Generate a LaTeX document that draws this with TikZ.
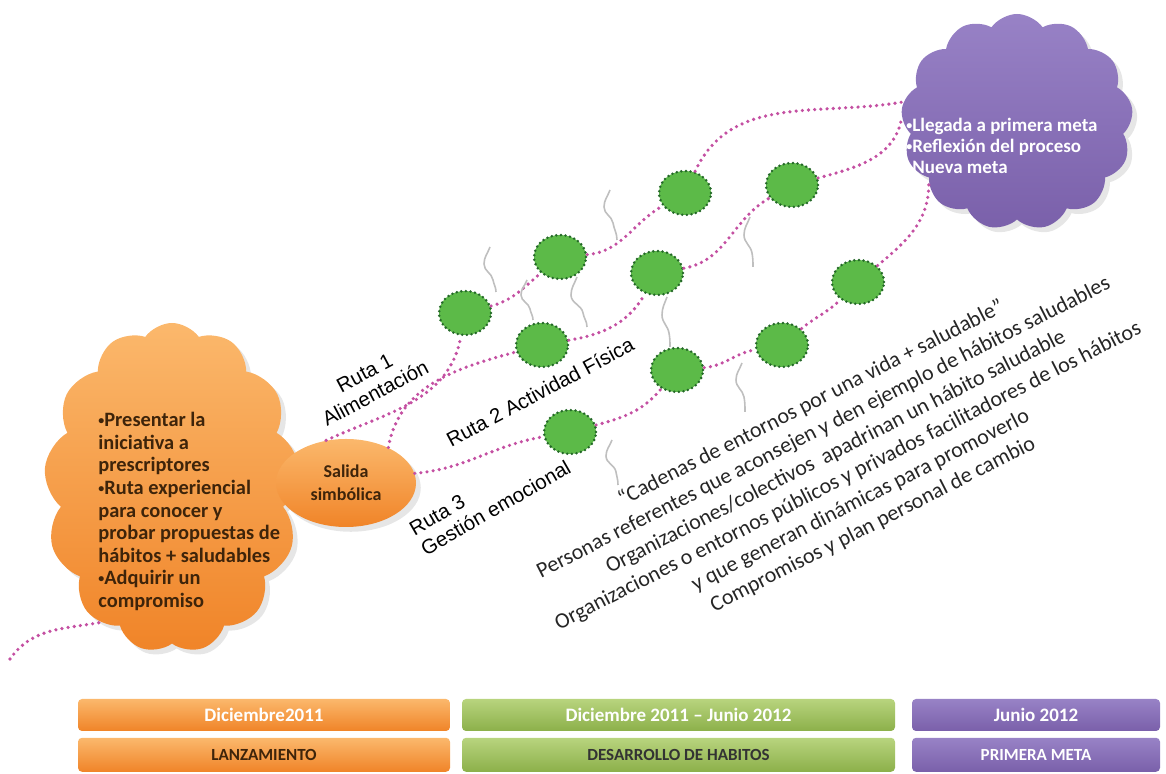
\documentclass[tikz,border=0pt]{standalone}
\usepackage{fontspec}
\setmainfont{Carlito}
\newfontfamily\arialfont{Liberation Sans}
\usetikzlibrary{positioning,shapes.symbols,shapes.geometric,shadows}
\definecolor{naranjaclaro}{RGB}{251,184,108}
\definecolor{naranjaosc}{RGB}{240,132,40}
\definecolor{moradoclaro}{RGB}{152,130,198}
\definecolor{morado}{RGB}{122,96,170}
\definecolor{verde}{RGB}{92,186,72}
\definecolor{verdeosc}{RGB}{36,104,40}
\definecolor{verdeclaro}{RGB}{184,212,126}
\definecolor{verdebarra}{RGB}{140,176,74}
\definecolor{rosa}{RGB}{196,80,162}
\definecolor{marron}{RGB}{62,36,10}
\newcommand{\punto}{\raisebox{0.1em}{\fontsize{6}{6}\selectfont\textbullet}}
\tikzset{
  nube/.style={cloud, cloud puffs=13, cloud puff arc=110, cloud ignores aspect,
    inner sep=0pt, drop shadow={opacity=0.2}},
  hito/.style={ellipse, minimum width=26pt, minimum height=22pt, fill=verde,
    draw=verdeosc, line width=1.4pt, dash pattern=on 0pt off 2.3pt, line cap=round},
  ruta/.style={rosa, line width=1.8pt, dash pattern=on 0pt off 3.1pt, line cap=round},
  hilo/.style={gray!50, line width=0.8pt},
  barra/.style={rounded corners=2pt, inner sep=0pt,
    font=\bfseries\fontsize{9.5}{10}\selectfont},
  rotulo/.style={font=\arialfont\fontsize{10.2}{11.5}\selectfont, inner sep=0pt}
}

\begin{document}
\begin{tikzpicture}[x=0.5pt,y=0.5pt]
  \useasboundingbox (0,0) rectangle (1166,774);

  % salida
  \node[nube, minimum width=128pt, minimum height=165pt,
    top color=naranjaclaro, bottom color=naranjaosc] (Inicio) at (172,286) {};
  \node[anchor=north west, align=left, text=marron, inner sep=0pt,
    font=\bfseries\fontsize{10.2}{11.3}\selectfont] (InicioTxt) at (98,362)
    {\punto Presentar la\\ iniciativa a\\ prescriptores\\
     \punto Ruta experiencial\\ para conocer y\\ probar propuestas de\\
     hábitos + saludables\\ \punto Adquirir un\\ compromiso};
  \node[ellipse, minimum width=70pt, minimum height=44pt, drop shadow={opacity=0.2},
    top color=naranjaclaro, bottom color=naranjaosc, align=center, text=marron,
    font=\bfseries\fontsize{9}{11.5}\selectfont] (Salida) at (346,291)
    {Salida\\simbólica};

  % meta
  \node[nube, minimum width=116pt, minimum height=108pt,
    top color=moradoclaro, bottom color=morado] (Meta) at (1017,652) {};
  \node[anchor=west, align=left, text=white, inner sep=0pt,
    font=\bfseries\fontsize{9.5}{10.5}\selectfont] (MetaTxt) at (906,628)
    {\punto Llegada a primera meta\\ \punto Reflexión del proceso\\
     \punto Nueva meta};

  % hitos de cada ruta
  \node[hito] (R1a) at (465,461) {};
  \node[hito] (R1b) at (560,517) {};
  \node[hito] (R1c) at (685,581) {};
  \node[hito] (R2a) at (542,429) {};
  \node[hito] (R2b) at (657,501) {};
  \node[hito] (R2c) at (792,589) {};
  \node[hito] (R3a) at (570,342) {};
  \node[hito] (R3b) at (677,404) {};
  \node[hito] (R3c) at (782,429) {};
  \node[hito] (R3d) at (858,492) {};

  \draw[ruta] (Salida.115) to[out=25,in=-100] (R1a) to[out=15,in=-140] (R1b)
    to[out=5,in=-150] (R1c) to[out=65,in=-170] (Meta.170);
  \draw[ruta] (Salida.40) to[out=80,in=-165] (R2a) to[out=10,in=-120] (R2b)
    to[out=10,in=-150] (R2c) to[out=15,in=-100] (Meta.178);
  \draw[ruta] (Salida.8) to[out=5,in=-170] (R3a) to[out=15,in=-130] (R3b)
    to[out=5,in=-170] (R3c) to[out=40,in=-135] (R3d) to[out=40,in=-90] (Meta.215);
  \coordinate (Cola) at (10,115);
  \draw[ruta] (Cola) to[out=55,in=190] (Inicio.242);

  % hilos
  \draw[hilo] (490,527) to[out=-110,in=90] ++(-6,-17) to[out=-90,in=100] ++(9,-16) to[out=-80,in=90] ++(3,-12);
  \draw[hilo] (527,494) to[out=-110,in=90] ++(-6,-15) to[out=-90,in=100] ++(9,-14) to[out=-80,in=90] ++(3,-11);
  \draw[hilo] (577,497) to[out=-110,in=90] ++(-6,-18) to[out=-90,in=100] ++(12,-18) to[out=-80,in=90] ++(4,-14);
  \draw[hilo] (610,584) to[out=-110,in=90] ++(-6,-17) to[out=-90,in=100] ++(9,-16) to[out=-80,in=90] ++(4,-17);
  \draw[hilo] (667,477) to[out=-110,in=90] ++(-5,-18) to[out=-90,in=100] ++(7,-18) to[out=-80,in=90] ++(1,-14);
  \draw[hilo] (750,557) to[out=-110,in=90] ++(-6,-18) to[out=-90,in=100] ++(8,-18) to[out=-80,in=90] ++(1,-14);
  \draw[hilo] (742,411) to[out=-110,in=90] ++(-6,-17) to[out=-90,in=100] ++(8,-17) to[out=-80,in=90] ++(1,-15);
  \draw[hilo] (612,334) to[out=-110,in=90] ++(-6,-16) to[out=-90,in=100] ++(10,-16) to[out=-80,in=90] ++(2,-13);

  % rotulos de las rutas
  \node[rotulo, rotate=28, align=center] (Ruta1) at (370,391) {Ruta 1\\Alimentación};
  \node[rotulo, rotate=28] (Ruta2) at (540,382) {Ruta 2 Actividad Física};
  \node[rotulo, rotate=30, align=left] (Ruta3) at (490,276) {Ruta 3\\Gestión emocional};

  \node[rotate=27, align=center, text=black!85, inner sep=0pt,
    font=\fontsize{11}{13.6}\selectfont] (Cadenas) at (842,310)
    {“Cadenas de entornos por una vida + saludable”\\
     Personas referentes que aconsejen y den ejemplo de hábitos saludables\\
     Organizaciones/colectivos\ \ apadrinan un hábito saludable\\
     Organizaciones o entornos públicos y privados facilitadores de los hábitos\\
     y que generan dinámicas para promoverlo\\
     Compromisos y plan personal de cambio};

  % calendario
  \node[barra, minimum width=186pt, minimum height=16pt, text=white,
    top color=naranjaclaro, bottom color=naranjaosc] (Dic) at (264,59) {Diciembre2011};
  \node[barra, minimum width=186pt, minimum height=17pt, text=marron,
    top color=naranjaclaro, bottom color=naranjaosc, below=3pt of Dic,
    font=\bfseries\fontsize{8.5}{9}\selectfont] (Lanz) {LANZAMIENTO};
  \node[barra, minimum width=216.5pt, minimum height=16pt, text=white,
    top color=verdeclaro, bottom color=verdebarra] (Periodo) at (678.5,59)
    {Diciembre 2011 – Junio 2012};
  \node[barra, minimum width=216.5pt, minimum height=17pt, text=black!80,
    top color=verdeclaro, bottom color=verdebarra, below=3pt of Periodo,
    font=\bfseries\fontsize{8.5}{9}\selectfont] (Desarrollo) {DESARROLLO DE HABITOS};
  \node[barra, minimum width=124pt, minimum height=16pt, text=white,
    top color=moradoclaro, bottom color=morado] (Junio) at (1036,59) {Junio 2012};
  \node[barra, minimum width=124pt, minimum height=17pt, text=white,
    top color=moradoclaro, bottom color=morado, below=3pt of Junio,
    font=\bfseries\fontsize{8.5}{9}\selectfont] (Primera) {PRIMERA META};
\end{tikzpicture}
\end{document}
